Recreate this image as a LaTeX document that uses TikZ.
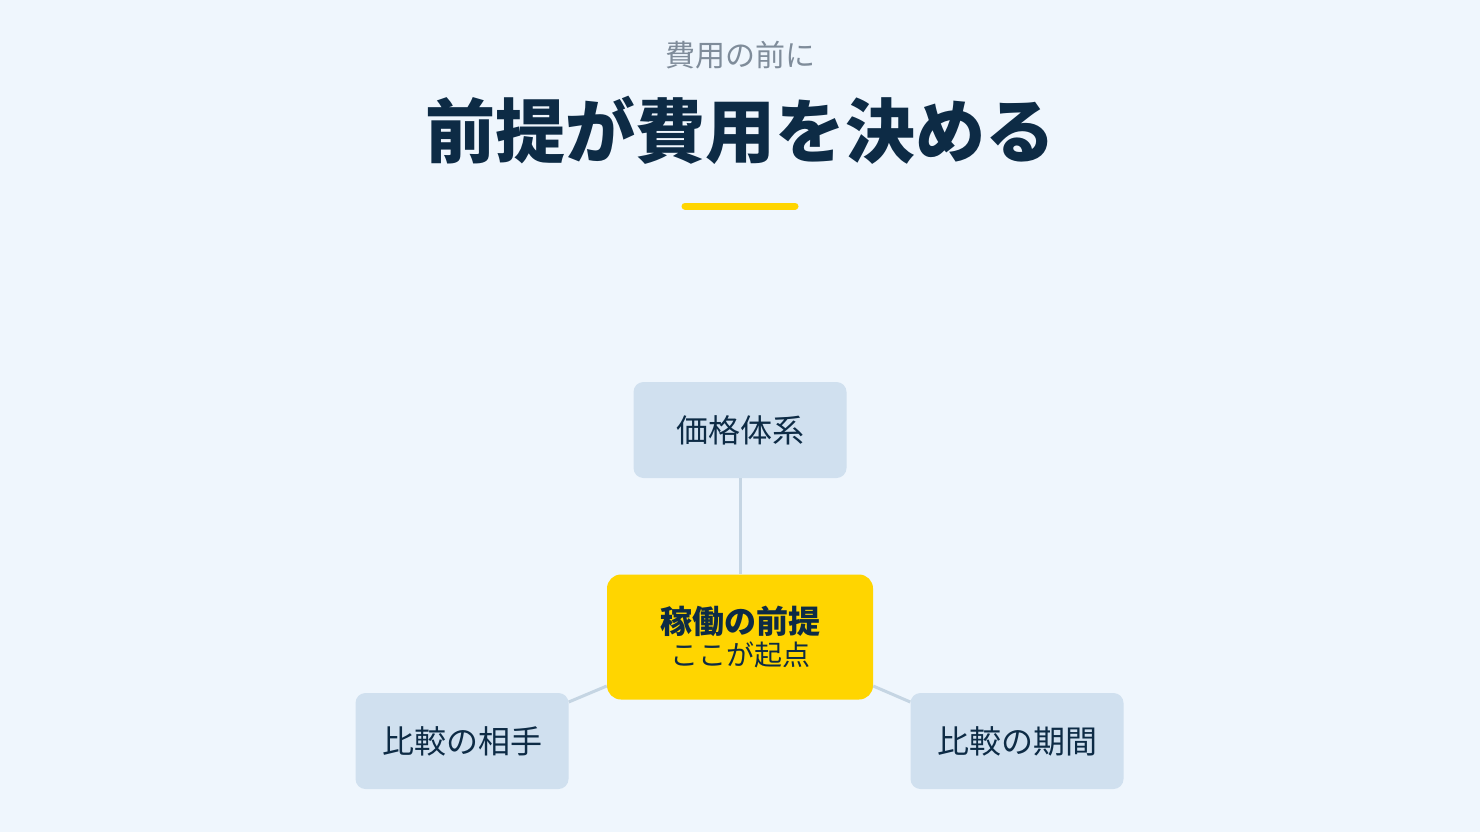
\documentclass[tikz,border=0pt]{standalone}
\usepackage{fontspec}
\setmainfont{Noto Sans CJK JP}
\definecolor{bg}{HTML}{EFF6FD}
\definecolor{navy}{HTML}{0D2B45}
\definecolor{sub}{HTML}{7F8C9A}
\definecolor{box}{HTML}{D0E0EF}
\definecolor{yel}{HTML}{FFD500}
\definecolor{ln}{HTML}{C5D5E3}
\begin{document}
\begin{tikzpicture}[x=1pt,y=-1pt,
  leaf/.style={fill=box,rounded corners=10pt,minimum width=213pt,minimum height=96pt,inner sep=0pt,text=navy,font=\fontsize{32}{38}\selectfont},
  conn/.style={draw=ln,line width=3pt}]
\fill[bg] (0,0) rectangle (1480,832);
\useasboundingbox (0,0) rectangle (1480,832);
\node[text=sub,font=\fontsize{30}{36}\selectfont] (sub) at (740,55) {費用の前に};
\node[text=navy,font=\fontsize{70}{84}\bfseries\selectfont] (title) at (740,130) {前提が費用を決める};
\coordinate (b1) at (685,206); \coordinate (b2) at (795,206);
\draw[yel,line width=7pt,line cap=round] (b1) -- (b2);
\node[leaf] (top) at (740,430) {価格体系};
\node[leaf] (left) at (462,741) {比較の相手};
\node[leaf] (right) at (1017,741) {比較の期間};
\node[fill=yel,rounded corners=14pt,minimum width=266pt,minimum height=125pt,inner sep=0pt,text=navy,align=center] (core) at (740,637)
  {{\fontsize{32}{40}\bfseries\selectfont 稼働の前提}\\[4pt]{\fontsize{28}{34}\selectfont ここが起点}};
\begin{scope}[on background layer/.try]
\end{scope}
\draw[conn] (top.south) -- (core.north);
\draw[conn] (core.west |- 0,686) coordinate (cl) -- (left.east |- 0,702) coordinate (ll);
\draw[conn] (core.east |- 0,686) coordinate (cr) -- (right.west |- 0,702) coordinate (rr);
\end{tikzpicture}
\end{document}
